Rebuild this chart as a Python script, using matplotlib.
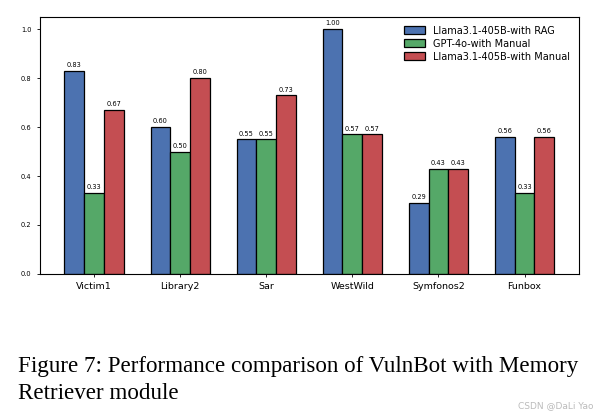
import numpy as np
import matplotlib
matplotlib.use('Agg')
import matplotlib.pyplot as plt

# data
targets = ['Victim1', 'Library2', 'Sar', 'WestWild', 'Symfonos2', 'Funbox']
llama_rag = [0.83, 0.60, 0.55, 1.00, 0.29, 0.56]
gpt4o_manual = [0.33, 0.50, 0.55, 0.57, 0.43, 0.33]
llama_manual = [0.67, 0.80, 0.73, 0.57, 0.43, 0.56]

caption_lines = ['Figure 7: Performance comparison of VulnBot with Memory',
                 'Retriever module']

series = [
    ('Llama3.1-405B-with RAG', llama_rag, '#4C72B0'),
    ('GPT-4o-with Manual', gpt4o_manual, '#55A868'),
    ('Llama3.1-405B-with Manual', llama_manual, '#C44E52'),
]

fig = plt.figure(figsize=(5.96, 4.15), dpi=100)
ax = fig.add_axes([0.067, 0.340, 0.904, 0.619])

x = np.arange(len(targets))
width = 0.23
for i, (name, vals, col) in enumerate(series):
    bars = ax.bar(x + (i - 1) * width, vals, width, label=name, color=col,
                  edgecolor='black', linewidth=0.9)
    for b, v in zip(bars, vals):
        ax.annotate(f'{v:.2f}', (b.get_x() + b.get_width() / 2, v),
                    xytext=(0, 2), textcoords='offset points',
                    ha='center', va='bottom', fontsize=4.8)

ax.set_xticks(x)
ax.set_xticklabels(targets, fontsize=6.8)
ax.tick_params(axis='y', labelsize=4.8, length=2.5, width=0.6)
ax.tick_params(axis='x', length=2.5, width=0.6)
ax.set_yticks([0.0, 0.2, 0.4, 0.6, 0.8, 1.0])
ax.set_ylim(0, 1.05)
for s in ax.spines.values():
    s.set_linewidth(0.8)

ax.legend(loc='upper right', fontsize=7, frameon=False,
          handlelength=2.2, handleheight=0.9, labelspacing=0.3)

# caption, one text per line
for k, line in enumerate(caption_lines):
    fig.text(0.031, 0.104 - k * 0.066, line, fontsize=16.6,
             family='Liberation Serif', ha='left', va='baseline')
fig.text(0.995, 0.012, 'CSDN @DaLi Yao', fontsize=6.5, color='#bbbbbb',
         ha='right', va='bottom')

fig.savefig('out.png', dpi=100)
